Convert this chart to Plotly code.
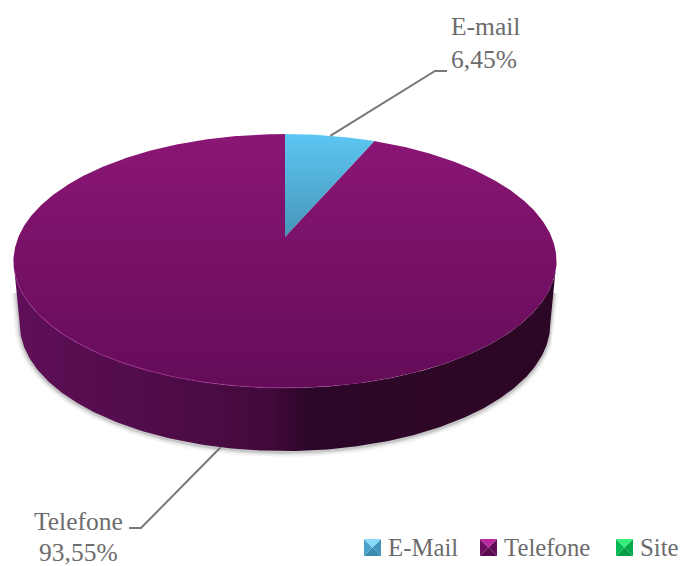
import math
import plotly.graph_objects as go

# Chart content
categories = ["E-Mail", "Telefone", "Site"]
slice_labels = ["E-mail", "Telefone", "Site"]
values = [6.45, 93.55, 0.0]

# Slice colours: rim (light) to hub (dark) for the lid, swatch bevel tones
lid_colors = {
    "E-Mail": ("#5cc6f2", "#4796b8"),
    "Telefone": ("#8b1675", "#640c58"),
    "Site": ("#14d060", "#0a8a40"),
}
bevels = {
    "E-Mail": ("#86dcfa", "#4aa3cd", "#4195bd", "#3a8bb2"),
    "Telefone": ("#b8279f", "#6e0e62", "#650c59", "#590a4f"),
    "Site": ("#36ee7a", "#06b952", "#05ab4b", "#049c44"),
}
wall_stops = [
    (0.00, "#5f0f58"), (0.15, "#560d4f"), (0.33, "#4c0b46"), (0.46, "#430a3c"),
    (0.50, "#3a0734"), (0.55, "#2a0628"), (0.75, "#2e0727"), (1.00, "#2c0625"),
]

# Perspective projection of the unit disc onto page pixels
CX, HUB_Y, BACK_Y, FRONT_Y = 285.0, 237.0, 134.0, 388.0
TILT = (BACK_Y + FRONT_Y - 2 * HUB_Y) / (FRONT_Y - BACK_Y)
SLOPE = BACK_Y * (1 + TILT) - HUB_Y
TOP_SCALE, BASE_SCALE = 266.6, 260.5
DEPTH = 63.0
# Angles where the projected disc is widest, i.e. where the drum's outline leaves the lid
LEFT_TANGENT = 360 - math.degrees(math.acos(-TILT))
RIGHT_TANGENT = math.degrees(math.acos(-TILT))


def project(angle, radius=1.0, scale=TOP_SCALE, drop=0.0):
    """Angle in degrees, clockwise from the far side of the disc."""
    a = math.radians(angle)
    px, py = radius * math.sin(a), radius * math.cos(a)
    w = 1 + TILT * py
    return CX + scale * px / w, (HUB_Y + SLOPE * py) / w + drop


def arc(start, end, **kw):
    n = max(2, int(abs(end - start) * 2))
    pts = [project(start + (end - start) * i / n, **kw) for i in range(n + 1)]
    return [p[0] for p in pts], [p[1] for p in pts]


total = sum(values)
spans = []
cursor = 0.0
for name, v in zip(categories, values):
    spans.append((name, cursor, cursor + v / total * 360))
    cursor += v / total * 360

fig = go.Figure()

# Soft shadow hugging the lower edge and the lower part of the drum's sides
bx, by = arc(RIGHT_TANGENT, LEFT_TANGENT, scale=BASE_SCALE, drop=DEPTH + 1)
rx, ry = project(RIGHT_TANGENT)
lx, ly = project(LEFT_TANGENT)
SIDE_START = 0.5  # share of the side edge left free of shadow
rs = (rx + (bx[0] - rx) * SIDE_START, ry + (by[0] - ry) * SIDE_START)
ls = (lx + (bx[-1] - lx) * SIDE_START, ly + (by[-1] - ly) * SIDE_START)
sx_path = [rs[0]] + bx + [ls[0]]
sy_path = [rs[1]] + by + [ls[1]]
for width, alpha in [(11, 0.035), (8, 0.05), (5, 0.08), (3, 0.12)]:
    fig.add_trace(go.Scatter(x=sx_path, y=sy_path, mode="lines", hoverinfo="skip",
                             line=dict(color=f"rgba(40,40,40,{alpha})", width=width)))

# Drum wall, front half only; the lid covers the rest
wx, wy = arc(RIGHT_TANGENT, LEFT_TANGENT, scale=BASE_SCALE, drop=DEPTH)
tx, ty = arc(LEFT_TANGENT, RIGHT_TANGENT)
fig.add_trace(go.Scatter(
    x=wx + tx, y=wy + ty, mode="lines", fill="toself", hoverinfo="skip",
    line=dict(width=0),
    fillgradient=dict(type="horizontal", start=13, stop=556,
                      colorscale=[[s, c] for s, c in wall_stops]),
))

# Lid slices, skipping empty categories
for name, a0, a1 in spans:
    if a1 - a0 <= 0:
        continue
    ax, ay = arc(a0, a1)
    light, dark = lid_colors[name]
    if name == "E-Mail":
        g0, g1 = BACK_Y, HUB_Y
    else:
        g0, g1 = BACK_Y, FRONT_Y
    fig.add_trace(go.Scatter(
        x=[CX] + ax + [CX], y=[HUB_Y] + ay + [HUB_Y], mode="lines", fill="toself",
        name=name, hoverinfo="skip", line=dict(width=0),
        fillgradient=dict(type="vertical", start=g0, stop=g1,
                          colorscale=[[0, light], [1, dark]]),
    ))

# Pale highlight along the near-left rim of the lid, fading towards the right
for a0, a1, alpha in [(262, 235, 0.25), (235, 205, 0.55), (205, 180, 0.45),
                      (180, 160, 0.2)]:
    hx, hy = arc(a0, a1)
    fig.add_trace(go.Scatter(x=hx, y=hy, mode="lines", hoverinfo="skip",
                             line=dict(color=f"rgba(170,45,155,{alpha})", width=1.2)))

# Leader lines from each slice's mid angle to its label
mail = spans[0]
phone = spans[1]
mx, my = project((mail[1] + mail[2]) / 2)
px_, py_ = project((phone[1] + phone[2]) / 2, scale=BASE_SCALE, drop=DEPTH)
MAIL_ELBOW = [(435, 71), (447, 71)]
PHONE_ELBOW = [(141, 528), (129, 528)]
for start, elbow in [((mx, my), MAIL_ELBOW), ((px_, py_), PHONE_ELBOW)]:
    fig.add_trace(go.Scatter(
        x=[start[0]] + [e[0] for e in elbow],
        y=[start[1]] + [e[1] for e in elbow],
        mode="lines", hoverinfo="skip", line=dict(color="#787878", width=2),
    ))


def pct(v):
    return f"{v:.2f}".replace(".", ",") + "%"


LABEL_FONT = dict(family="Liberation Serif", color="#6c6c6c", size=25.5)
LEGEND_FONT = dict(family="Liberation Serif", color="#6c6c6c", size=24.8)
annotations = []
for text, x, y in [
    (slice_labels[0], 485, 26), (pct(values[0]), 484, 59),
    (slice_labels[1], 78, 521), (pct(values[1]), 78, 552),
]:
    annotations.append(dict(x=x, y=y, text=text, showarrow=False, font=LABEL_FONT,
                            xanchor="center", yanchor="middle"))

# Legend row: bevelled swatch plus name
SWATCH_X = [372.5, 488.5, 624.5]
LEGEND_Y = 547.5
HALF = 8.5
for name, sx in zip(categories, SWATCH_X):
    top, left, right, bottom = bevels[name]
    corners = {
        bottom: [(-1, 1), (1, 1)],
        left: [(-1, -1), (-1, 1)],
        right: [(1, -1), (1, 1)],
        top: [(-1, -1), (1, -1)],
    }
    for colour, ends in corners.items():
        xs = [sx] + [sx + e[0] * HALF for e in ends] + [sx]
        ys = [LEGEND_Y] + [LEGEND_Y + e[1] * HALF for e in ends] + [LEGEND_Y]
        fig.add_trace(go.Scatter(x=xs, y=ys, mode="lines", fill="toself",
                                 fillcolor=colour, line=dict(width=0),
                                 hoverinfo="skip"))
    annotations.append(dict(x=sx + 13, y=LEGEND_Y, text=name, showarrow=False, font=LEGEND_FONT,
                            xanchor="left", yanchor="middle"))

fig.update_layout(
    width=683, height=566, showlegend=False,
    paper_bgcolor="white", plot_bgcolor="white",
    margin=dict(l=0, r=0, t=0, b=0), annotations=annotations,
    xaxis=dict(range=[0, 683], visible=False, fixedrange=True),
    yaxis=dict(range=[566, 0], visible=False, fixedrange=True),
)
fig.write_html("out.html", config={"displayModeBar": False})
